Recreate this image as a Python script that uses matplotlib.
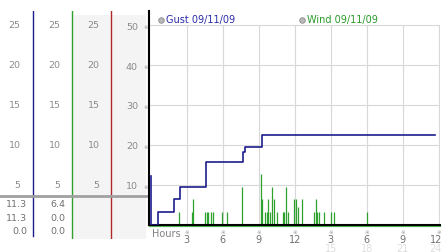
import numpy as np
import matplotlib.pyplot as plt
from matplotlib.transforms import blended_transform_factory, ScaledTranslation

# gust series (step line), hours and values
gust_hours = [0, 0, 0.62, 1.97, 2.44, 4.6, 7.65, 7.86, 9.3, 23.7]
gust_vals = [6.1, 0, 1.6, 3.25, 4.7, 7.9, 9.1, 9.7, 11.3, 11.3]

# wind series: spikes at these hours
wind_hours = [2.38, 3.47, 3.55, 4.55, 4.66, 4.8, 5.03, 5.16, 5.97, 6.39, 7.63,
              9.22, 9.28, 9.55, 9.66, 9.8, 9.94, 10.13, 10.3, 10.5, 11.0, 11.1,
              11.27, 11.47, 11.9, 12.08, 12.28, 12.58, 13.63, 13.75, 13.86, 14.0,
              14.47, 15.0, 15.3, 18.05]
wind_vals = [1.6, 1.6, 3.2, 1.6, 1.6, 1.6, 1.6, 1.6, 1.6, 1.6, 4.75,
             6.4, 3.2, 1.6, 1.6, 3.2, 1.6, 4.75, 3.2, 1.6, 1.6, 1.6,
             4.75, 1.6, 3.2, 3.2, 2.25, 3.2, 1.6, 3.2, 1.6, 1.6,
             1.6, 1.6, 1.6, 1.6]

# scale labels
left_ticks = [5, 10, 15, 20, 25]
right_labels = ['10', '20', '30', '40', '50']
hour_ticks = [3, 6, 9, 12, 15, 18, 21, 24]
hour_labels = ['3', '6', '9', '12', '3', '6', '9', '12']
day2_labels = ['15', '18', '21', '24']

# summary numbers under the columns
gust_stats = ['11.3', '11.3', '0.0']
wind_stats = ['6.4', '0.0', '0.0']

navy = '#1c1c8c'
green = '#2ea02e'
red = '#b02828'
grey_txt = '#8a8a8a'

W, H = 442, 253
fig = plt.figure(figsize=(W / 100, H / 100), dpi=100)

def box(x0, ytop, x1, ybot):
    return [x0 / W, 1 - ybot / H, (x1 - x0) / W, (ybot - ytop) / H]

# left side panel, same vertical scale as the plot (8 px per unit)
lax = fig.add_axes(box(0, 12, 149, 240))
lax.set_xlim(0, 149)
lax.set_ylim(-1.75, 26.75)
lax.axis('off')
lax.axvspan(72, 111, ymin=0, ymax=28.0 / 28.5, color='#f4f4f4', lw=0)
lax.axvspan(112, 146, ymin=0, ymax=28.0 / 28.5, color='#f4f4f4', lw=0)
lax.plot([33.3, 33.3], [26.75, -1.4], color=navy, lw=1.0)
lax.plot([72.3, 72.3], [26.75, -1.6], color=green, lw=1.0)
lax.plot([111, 111], [26.75, -1.6], color=red, lw=1.0)
lax.axhline(3.62, color='#a0a0a0', lw=2.0)

for v in left_ticks:
    for xr in (20.5, 60.5, 99.5):
        lax.text(xr, v, str(v), ha='right', va='center', fontsize=6.8, color=grey_txt)

stat_y = [2.65, 0.95, -0.7]
for s, y in zip(gust_stats, stat_y):
    lax.text(27.5, y, s, ha='right', va='center', fontsize=6.8, color='#707070')
for s, y in zip(wind_stats, stat_y):
    lax.text(65.5, y, s, ha='right', va='center', fontsize=6.8, color='#707070')

# main plot
ax = fig.add_axes(box(149, 12, 440, 226))
ax.set_xlim(-0.14, 24.1)
ax.set_ylim(0, 26.75)
ax.patch.set_alpha(0)

for v in left_ticks:
    ax.axhline(v, color='#d8d8d8', lw=0.8, zorder=0)
ax.vlines(hour_ticks, 0, 25, color='#d8d8d8', lw=0.8, zorder=0)

ax.axhline(-0.16, color='#55b855', lw=0.9, clip_on=False, zorder=1)
ax.vlines(wind_hours, 0, wind_vals, color=green, lw=0.9, zorder=2)
ax.plot(gust_hours, gust_vals, drawstyle='steps-post', color=navy, lw=1.2, zorder=3)

for side in ('top', 'right'):
    ax.spines[side].set_visible(False)
ax.spines['left'].set_linewidth(1.5)
ax.spines['bottom'].set_linewidth(1.5)

ax.set_yticks(left_ticks)
ax.set_yticklabels(right_labels, fontsize=6.8, color=grey_txt)
ax.tick_params(axis='y', length=0, pad=8)
ax.set_xticks(hour_ticks)
ax.set_xticklabels(hour_labels, fontsize=7, color='#707070')
ax.tick_params(axis='x', length=0, pad=6.5)

# last hour label sits against the right edge
shift = ScaledTranslation(-3 / 100, 0, fig.dpi_scale_trans)
last = ax.get_xticklabels()[-1]
last.set_transform(last.get_transform() + shift)

# little reference marks next to the tick labels
ty = blended_transform_factory(ax.transAxes, ax.transData)
for v in left_ticks:
    ax.text(-0.012, v - 0.15, '\u203b', transform=ty, ha='center', va='center',
            fontsize=4, color='#999999', clip_on=False)
tx = blended_transform_factory(ax.transData, ax.transAxes)
for h in hour_ticks:
    ax.text(h, -0.02, '\u203b', transform=tx, ha='center', va='top',
            fontsize=4, color='#999999', clip_on=False)
for h, lab in zip(hour_ticks[4:], day2_labels):
    t = ax.text(h, -0.083, lab, transform=tx, ha='center', va='top',
                fontsize=7, color='#dedede', clip_on=False)
    if lab == day2_labels[-1]:
        t.set_transform(tx + shift)
ax.text(0.1, -0.012, 'Hours', transform=tx, ha='left', va='top',
        fontsize=7, color='#808080', clip_on=False)

# series labels at the top
for xm, xt, lab, col in [(161, 166, 'Gust 09/11/09', '#2a2aa8'),
                         (302, 307, 'Wind 09/11/09', '#2a9a2a')]:
    fig.lines.append(plt.Line2D([xm / W], [1 - 20.5 / H], transform=fig.transFigure,
                                marker='o', ms=4, mfc='#b8b8b8', mec='#8c8c8c', mew=0.6))
    fig.text(xt / W, 1 - 20.5 / H, lab, ha='left', va='center', fontsize=7, color=col)

fig.savefig('out.png', dpi=100)
